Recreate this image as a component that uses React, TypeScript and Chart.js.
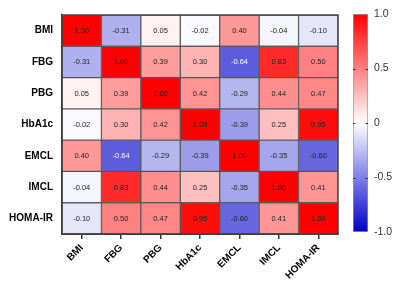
import React, { useEffect, useRef } from "react";
import { Chart, registerables } from "chart.js";

Chart.register(...registerables);

const labels = ["BMI", "FBG", "PBG", "HbA1c", "EMCL", "IMCL", "HOMA-IR"];
const bmiRow = [1.0, -0.31, 0.05, -0.02, 0.4, -0.04, -0.1];
const fbgRow = [-0.31, 1.0, 0.39, 0.3, -0.64, 0.83, 0.5];
const pbgRow = [0.05, 0.39, 1.0, 0.42, -0.29, 0.44, 0.47];
const hba1cRow = [-0.02, 0.3, 0.42, 1.0, -0.39, 0.25, 0.95];
const emclRow = [0.4, -0.64, -0.29, -0.39, 1.0, -0.35, -0.6];
const imclRow = [-0.04, 0.83, 0.44, 0.25, -0.35, 1.0, 0.41];
const homaRow = [-0.1, 0.5, 0.47, 0.95, -0.6, 0.41, 1.0];
const rowsData = [bmiRow, fbgRow, pbgRow, hba1cRow, emclRow, imclRow, homaRow];
const colorbarRange = [-1, 1];
const colorbarStep = 0.5;

const FONT = "'Liberation Sans', Arial, sans-serif";

function colorFor(v: number): string {
  if (v >= 0) {
    const t = Math.min(1, v);
    const c = Math.round(255 * (1 - t));
    return `rgb(255,${c},${c})`;
  }
  const t = Math.min(1, -v);
  const c = Math.round(255 * (1 - t));
  const b = Math.round(255 - 55 * t);
  return `rgb(${c},${c},${b})`;
}

const cellText = {
  id: "cellText",
  afterDatasetsDraw(chart: any) {
    const ctx = chart.ctx;
    ctx.save();
    ctx.font = `7.5px ${FONT}`;
    ctx.textAlign = "center";
    ctx.textBaseline = "middle";
    chart.data.datasets.forEach((ds: any, j: number) => {
      const meta = chart.getDatasetMeta(j);
      meta.data.forEach((el: any, i: number) => {
        const v = ds.values[i];
        const p = el.getCenterPoint();
        ctx.fillStyle = v <= -0.62 ? "#ffffff" : "#222222";
        ctx.fillText(v.toFixed(2), p.x, p.y + 0.5);
      });
    });
    const a = chart.chartArea;
    ctx.strokeStyle = "#444";
    ctx.lineWidth = 1.5;
    ctx.strokeRect(a.left, a.top, a.right - a.left, a.bottom - a.top);
    ctx.restore();
  },
};

const barTicks = {
  id: "barTicks",
  afterDatasetsDraw(chart: any) {
    const ctx = chart.ctx;
    const y = chart.scales.y;
    const a = chart.chartArea;
    ctx.save();
    ctx.strokeStyle = "#333";
    ctx.lineWidth = 1;
    y.ticks.forEach((t: any) => {
      if (t.value === colorbarRange[0] || t.value === colorbarRange[1]) return;
      const py = Math.round(y.getPixelForValue(t.value)) + 0.5;
      ctx.beginPath();
      ctx.moveTo(a.left, py);
      ctx.lineTo(a.left + 2.5, py);
      ctx.moveTo(a.right - 2.5, py);
      ctx.lineTo(a.right, py);
      ctx.stroke();
    });
    ctx.restore();
  },
};

export default function App() {
  const mainRef = useRef<HTMLCanvasElement>(null);
  const barRef = useRef<HTMLCanvasElement>(null);

  useEffect(() => {
    const datasets = rowsData.map((row, j) => ({
      label: labels[j],
      data: row.map(() => [j - 0.5, j + 0.5]),
      values: row,
      backgroundColor: row.map(colorFor),
      borderColor: "rgba(70,70,70,0.85)",
      borderWidth: 1,
      borderSkipped: false,
      grouped: false,
      barPercentage: 1,
      categoryPercentage: 1,
    }));
    const main = new Chart(mainRef.current!, {
      type: "bar",
      data: { labels, datasets: datasets as any },
      options: {
        animation: false,
        responsive: false,
        maintainAspectRatio: false,
        layout: { padding: { top: 14, right: 62, left: 0, bottom: 0 } },
        plugins: { legend: { display: false }, tooltip: { enabled: false } },
        scales: {
          x: {
            type: "category",
            offset: true,
            grid: {
              display: true,
              drawOnChartArea: false,
              offset: false,
              tickLength: 5,
              color: "#333",
              lineWidth: 1.5,
            },
            border: { display: true, color: "#333", width: 2 },
            ticks: {
              color: "#000",
              font: { family: FONT, size: 10, weight: "bold" },
              maxRotation: 45,
              minRotation: 45,
              padding: 3,
              autoSkip: false,
            },
            afterFit: (s: any) => {
              s.height = 54;
            },
          },
          y: {
            type: "linear",
            reverse: true,
            min: -0.5,
            max: labels.length - 0.5,
            afterBuildTicks: (s: any) => {
              s.ticks = labels.map((_, i) => ({ value: i }));
            },
            grid: { display: false, drawTicks: false },
            border: { display: true, color: "#333", width: 2 },
            ticks: {
              color: "#000",
              font: { family: FONT, size: 10, weight: "bold" },
              padding: 9,
              callback: (v: any) => labels[v as number],
            },
            afterFit: (s: any) => {
              s.width = 62;
            },
          },
        },
      },
      plugins: [cellText],
    });

    const bar = new Chart(barRef.current!, {
      type: "bar",
      data: {
        labels: [""],
        datasets: [
          {
            data: [colorbarRange] as any,
            backgroundColor: (c: any) => {
              const area = c.chart.chartArea;
              if (!area) return "#fff";
              const g = c.chart.ctx.createLinearGradient(0, area.bottom, 0, area.top);
              g.addColorStop(0, colorFor(-1));
              g.addColorStop(0.5, colorFor(0));
              g.addColorStop(1, colorFor(1));
              return g;
            },
            borderColor: "#999",
            borderWidth: 1,
            borderSkipped: false,
            barPercentage: 1,
            categoryPercentage: 1,
          },
        ],
      },
      options: {
        animation: false,
        responsive: false,
        maintainAspectRatio: false,
        layout: { padding: { top: 14, left: 13, right: 0, bottom: 56 } },
        plugins: { legend: { display: false }, tooltip: { enabled: false } },
        scales: {
          x: { display: false },
          y: {
            position: "right",
            min: colorbarRange[0],
            max: colorbarRange[1],
            grid: { display: false, drawTicks: false },
            border: { display: false },
            ticks: {
              stepSize: colorbarStep,
              color: "#333",
              font: { family: FONT, size: 10.5 },
              padding: 6,
              callback: (v: any) => (v === 0 ? "0" : Number(v).toFixed(1)),
            },
            afterFit: (s: any) => {
              s.width = 32;
            },
          },
        },
      },
      plugins: [barTicks],
    });

    return () => {
      main.destroy();
      bar.destroy();
    };
  }, []);

  return (
    <div style={{ position: "fixed", left: 0, top: 0, width: 400, height: 288, background: "#fff" }}>
      <canvas ref={mainRef} width={400} height={288} style={{ position: "absolute", left: 0, top: 0, width: 400, height: 288 }} />
      <canvas ref={barRef} width={60} height={288} style={{ position: "absolute", left: 340, top: 0, width: 60, height: 288 }} />
    </div>
  );
}
